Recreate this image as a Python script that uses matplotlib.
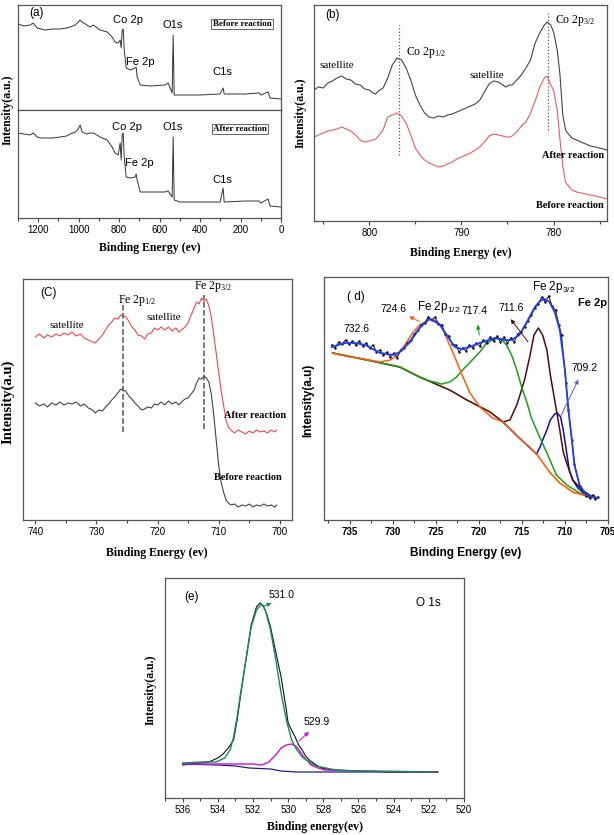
import matplotlib
matplotlib.use("Agg")
import matplotlib.pyplot as plt
from matplotlib.ticker import MultipleLocator

plt.rcParams['font.family'] = ['Liberation Sans', 'DejaVu Sans']
plt.rcParams['mathtext.fontset'] = 'custom'
plt.rcParams['mathtext.rm'] = 'Liberation Serif'
plt.rcParams['mathtext.sf'] = 'Liberation Sans'

SERIF = ['Liberation Serif', 'DejaVu Serif']
SANS = ['Liberation Sans', 'DejaVu Sans']
W, H = 614, 835

# ---- (a) survey spectra ----
a_e = [1300, 1270, 1240, 1225, 1205, 1185, 1165, 1130, 1091, 1060, 1042, 1017, 1002, 993, 983, 960,
       943, 928, 894, 859, 835, 820, 805, 795, 790, 785, 780, 775, 765, 746, 721, 716, 711, 696,
       647, 573, 558, 548, 538, 533, 528, 499, 400, 301, 286, 281, 178, 108, 99, 64, 54, 0]
a_before = [86, 84, 85, 87, 82, 81, 80, 81, 81, 82, 83, 85, 88, 90, 88, 85,
            83, 85, 80, 78, 73, 68, 67, 70, 62, 80, 81, 60, 42, 40, 42, 43, 33, 25,
            24, 25, 27, 22, 17, 75, 15, 15, 15, 16, 22, 16, 16, 17, 15, 18, 12, 11]
a_after = [85, 84, 83, 85, 81, 80, 80, 80, 81, 82, 84, 86, 89, 93, 86, 84,
           85, 85, 81, 78, 71, 65, 63, 75, 58, 83, 85, 61, 41, 40, 41, 44, 38, 26,
           26, 26, 27, 24, 21, 81, 18, 16, 16, 16, 30, 16, 17, 17, 15, 19, 12, 11]

# ---- (b) Co 2p ----
b_e = [806.0, 805.5, 805.0, 804.5, 804.0, 803.5, 803.0, 802.5, 802.0, 801.5, 801.0, 800.5, 800.0,
       799.6, 799.3, 799.0, 798.5, 798.0, 797.5, 797.0, 796.5, 796.0, 795.5, 795.0, 794.5, 794.0,
       793.5, 793.0, 792.5, 792.0, 791.5, 791.0, 790.5, 790.0, 789.5, 789.0, 788.5, 788.0, 787.5,
       787.0, 786.5, 786.0, 785.5, 785.2, 784.8, 784.5, 784.0, 783.5, 783.0, 782.5, 782.0, 781.5,
       781.0, 780.7, 780.3, 780.0, 779.6, 779.3, 779.0, 778.7, 778.3, 778.0, 777.5, 777.0, 776.5,
       776.0, 775.5, 775.0, 774.6, 774.2]
b_after = [131, 134, 133, 138, 140, 143, 145, 142, 141, 137, 136, 132, 131,
           128, 127, 130, 133, 143, 156, 163, 161, 153, 141, 126, 116, 108,
           104, 103, 105, 104, 106, 107, 109, 111, 113, 115, 117, 121, 129,
           137, 140, 139, 136, 134, 136, 136, 141, 146, 153, 161, 178, 188,
           196, 199, 196, 189, 171, 146, 106, 91, 86, 83, 81, 79, 77,
           75, 74, 73, 72, 71]
b_before = [84, 86, 88, 90, 91, 92, 94, 92, 90, 86, 81, 79, 80,
            81, 82, 85, 91, 104, 106, 108, 105, 98, 86, 73, 66, 61,
            58, 56, 54, 55, 57, 59, 62, 64, 66, 68, 71, 74, 79,
            85, 87, 86, 85, 84, 84, 85, 89, 95, 99, 108, 120, 134,
            143, 145, 136, 131, 111, 81, 55, 39, 34, 31, 29, 28, 27,
            26, 25, 24, 23, 22]

# ---- (c) Fe 2p before / after ----
c_e = [740, 739.3, 738.6, 738, 737.3, 736.6, 736, 735.3, 734.6, 734, 733.3, 732.6, 732, 731.3,
       730.6, 730.2, 729.6, 729, 728.5, 728, 727.5, 727, 726.5, 726, 725.7, 725.2, 724.7, 724.2,
       723.7, 723.2, 722.6, 722.1, 721.6, 721, 720.5, 720, 719.4, 718.8, 718.2, 717.6, 717, 716.5,
       716.1, 715.5, 715, 714.5, 714, 713.6, 713.2, 712.8, 712.4, 712, 711.6, 711.2, 710.8, 710.4,
       710, 709.6, 709.2, 708.8, 708.4, 708, 707.4, 706.8, 706.2, 705.6, 705, 704.4, 703.8, 703.2,
       702.6, 702, 701.4, 700.8, 700.5]
c_after = [183, 186, 182, 185, 183, 186, 184, 187, 185, 188, 184, 186, 182, 180,
           178, 177, 181, 185, 190, 195, 198, 202, 201, 205, 204, 203, 199, 193,
           190, 185, 184, 181, 186, 187, 192, 190, 193, 190, 193, 189, 192, 188,
           190, 193, 197, 205, 212, 218, 216, 222, 219, 221, 214, 203, 185, 167,
           148, 130, 115, 100, 93, 90, 87, 90, 88, 86, 89, 87, 90, 88,
           89, 87, 90, 88, 90]
c_before = [117, 114, 116, 113, 117, 115, 118, 115, 117, 116, 118, 114, 116, 112,
            110, 107, 110, 109, 113, 116, 120, 123, 127, 131, 130, 129, 124, 121,
            117, 114, 110, 111, 113, 112, 116, 115, 118, 115, 119, 116, 118, 115,
            118, 121, 122, 126, 130, 137, 142, 141, 144, 142, 138, 126, 105, 80,
            55, 38, 28, 20, 17, 15, 16, 13, 15, 14, 16, 13, 15, 14,
            16, 14, 15, 13, 15]

# ---- (d) Fe 2p fit ----
d_raw_e = [737.1, 736.7, 736.3, 735.9, 735.5, 735.1, 734.7, 734.3, 733.9, 733.5, 733.1, 732.7,
           732.3, 731.9, 731.5, 731.1, 730.7, 730.3, 729.9, 729.5, 729.1, 728.7, 728.3, 727.9,
           727.5, 727.1, 726.7, 726.3, 725.9, 725.5, 725.1, 724.7, 724.3, 723.9, 723.5, 723.1,
           722.7, 722.3, 721.9, 721.5, 721.1, 720.7, 720.3, 719.9, 719.5, 719.1, 718.7, 718.3,
           717.9, 717.5, 717.1, 716.7, 716.3, 715.9, 715.5, 715.1, 714.7, 714.3, 713.9, 713.5,
           713.1, 712.7, 712.3, 711.9, 711.5, 711.1, 710.7, 710.4, 709.9, 709.6, 709.2, 708.9,
           708.3, 707.5, 707.1, 706.8, 706.5, 706.2]
d_raw = [175, 172, 178, 176, 180, 176, 179, 175, 179, 174, 177, 172,
         175, 168, 170, 165, 168, 163, 167, 162, 170, 172, 177, 180,
         186, 190, 195, 197, 203, 200, 203, 196, 195, 186, 184, 176,
         175, 168, 172, 169, 175, 172, 177, 174, 180, 177, 183, 179,
         184, 178, 183, 177, 182, 178, 186, 188, 193, 199, 205, 212,
         216, 223, 218, 224, 214, 210, 195, 185, 137, 110, 80, 56,
         34, 24, 22, 25, 21, 23]
d_fit_e = [737.1, 735.6, 734.4, 733.2, 731.5, 730.0, 729.2, 728.0, 726.9, 725.9, 725.6, 724.5,
           723.6, 722.8, 722.0, 721.1, 719.9, 718.2, 717.0, 716.2, 715.3, 714.3, 713.5, 712.9,
           712.4, 711.8, 711.2, 710.6, 710.0, 709.6, 709.2, 708.9, 708.3, 707.5, 706.2]
d_fit = [173, 177, 177, 175, 167, 165, 168, 178, 192, 200, 201, 195,
         183, 173, 171, 173, 177, 182, 180, 180, 185, 200, 213, 219,
         221, 218, 208, 190, 150, 110, 80, 55, 35, 25, 22]
d_bg_e = [737.0, 733.0, 729.2, 726.9, 723.4, 721.4, 718.7, 717.2, 715.3, 713.3, 711.8, 710.6,
          709.1, 707.5, 706.2]
d_bg = [167, 160, 153, 143, 130, 120, 108, 98, 82, 66, 48, 37, 28, 24, 22]
d_or_e = [737.0, 735.0, 732.7, 731.5, 730.3, 729.5, 728.6, 727.7, 726.9, 725.9, 725.2, 724.5,
          724.0, 723.4, 722.8, 722.2, 721.1, 719.9, 718.4, 717.2, 715.3, 713.3, 711.8, 710.6,
          709.1, 707.5, 706.2]
d_or = [167, 163, 160, 158, 160, 165, 175, 187, 195, 200, 200, 195,
        187, 175, 163, 150, 128, 113, 102, 98, 82, 66, 48, 37, 28, 24, 22]
d_gr_e = [737.0, 733.0, 729.2, 726.9, 725.7, 724.3, 723.4, 722.6, 721.9, 721.1, 719.9, 719.1,
          717.9, 717.4, 716.8, 716.2, 715.6, 715.0, 714.4, 713.9, 713.2, 712.1, 711.0, 709.8,
          708.3, 706.3]
d_gr = [167, 160, 153, 143, 139, 136, 138, 143, 150, 157, 168, 177,
        182, 181, 175, 165, 150, 132, 117, 102, 88, 67, 45, 35, 27, 22]
d_br_e = [737.0, 733.0, 729.2, 726.9, 723.4, 721.4, 718.7, 717.2, 716.4, 715.6, 715.3, 714.7,
          714.1, 713.6, 713.1, 712.6, 712.1, 711.7, 711.2, 710.6, 710.2, 709.8, 709.1, 708.0,
          706.8, 706.2]
d_br = [167, 160, 153, 143, 130, 120, 108, 98, 100, 115, 123, 140,
        163, 185, 192, 185, 170, 145, 120, 90, 68, 57, 40, 30, 23, 22]
d_nv_e = [717.2, 715.3, 713.3, 712.9, 712.5, 712.1, 711.7, 711.2, 710.9, 710.5, 710.2, 709.8,
          709.5, 709.1, 708.5, 707.7, 706.9, 706.2]
d_nv = [98, 82, 66, 73, 82, 90, 100, 106, 107, 103, 90, 67, 50, 40, 32, 26, 23, 22]

# ---- (e) O 1s ----
e_raw_e = [536, 535, 534.5, 534, 533.7, 533.4, 533.1, 532.9, 532.7, 532.4, 532.1, 531.8, 531.6,
           531.4, 531.2, 531.0, 530.7, 530.4, 530.1, 530.0, 529.8, 529.6, 529.4, 529.2, 529.0,
           528.8, 528.4, 528.1, 527.5, 526, 524, 521.5]
e_raw = [33, 35, 36, 40, 44, 50, 58, 78, 103, 138, 173, 191, 195,
         192, 183, 171, 146, 121, 88, 75, 68, 61, 53, 48, 42,
         38, 33, 30, 28, 27, 26, 26]
e_gr_e = [536, 535, 534.1, 533.6, 533.3, 533.1, 532.9, 532.7, 532.4, 532.1, 531.8, 531.5, 531.3,
          531.0, 530.7, 530.4, 530.1, 529.8, 529.5, 529.2, 528.8, 528.4, 527.3, 526, 521.5]
e_gr = [35, 36, 36, 40, 48, 61, 81, 105, 138, 171, 188, 194, 188,
        168, 138, 105, 78, 58, 48, 41, 36, 32, 28, 27, 26]
e_mg_e = [536, 534, 532, 531.5, 531.1, 530.7, 530.4, 530.1, 529.8, 529.5, 529.1, 528.7, 528.3,
          527.9, 526, 521.5]
e_mg = [34, 34, 34, 33, 36, 43, 50, 53, 54, 51, 41, 33, 30, 28, 27, 26]
e_bg_e = [536, 534, 533, 532.2, 531, 530.4, 529.5, 528.4, 521.5]
e_bg = [34, 33, 32, 30, 29, 27, 26, 26, 26]


def add_axes(fig, left, top, right, bottom):
    # positions given in pixels of the 614x835 picture
    return fig.add_axes([left / W, 1 - bottom / H, (right - left) / W, (bottom - top) / H])


def style(ax, xlim, ylim, major, minor, bold=False, labels=True):
    ax.set_xlim(*xlim)
    ax.set_ylim(*ylim)
    ax.set_yticks([])
    ax.xaxis.set_major_locator(MultipleLocator(major))
    ax.xaxis.set_minor_locator(MultipleLocator(minor))
    ax.tick_params(axis='x', which='both', direction='out', color='#444', width=0.8,
                   labelsize=7, pad=2, labelbottom=labels)
    ax.tick_params(axis='x', which='major', length=3)
    ax.tick_params(axis='x', which='minor', length=2)
    for lab in ax.get_xticklabels():
        lab.set_fontweight('bold' if bold else 'normal')
    for s in ax.spines.values():
        s.set_color('#555')
        s.set_linewidth(0.9)


def ftext(fig, x, y, s, **kw):
    fig.text(x / W, 1 - y / H, s, ha='center', va='center', **kw)


def arrow(ax, tail, head, color):
    ax.annotate('', xy=head, xytext=tail,
                arrowprops=dict(arrowstyle='-|>', color=color, lw=0.7, mutation_scale=6))


fig = plt.figure(figsize=(W / 100, H / 100), dpi=100)

# (a)
ax_a1 = add_axes(fig, 18, 5, 281, 110)
ax_a2 = add_axes(fig, 18, 110, 281, 218)
ax_a1.plot(a_e, a_before, color='#333', lw=0.7)
ax_a2.plot(a_e, a_after, color='#333', lw=0.7)
style(ax_a1, (1300, 0), (0, 105), 200, 100, labels=False)
ax_a1.tick_params(axis='x', which='both', length=0)
style(ax_a2, (1300, 0), (0, 108), 200, 100)
ax_a1.text(1210, 97, '(a)', fontsize=8.5, ha='center', va='center')
ax_a1.text(755, 90, 'Co 2p', fontsize=8, ha='center', va='center')
ax_a1.text(533, 85, 'O1s', fontsize=8, ha='center', va='center')
ax_a1.text(696, 48, 'Fe 2p', fontsize=8, ha='center', va='center')
ax_a1.text(291, 38, 'C1s', fontsize=8, ha='center', va='center')
ax_a1.text(193, 86, 'Before reaction', fontsize=6.5, ha='center', va='center', family=SERIF,
           weight='bold', bbox=dict(boxstyle='square,pad=0.15', fc='white', ec='#666', lw=0.7))
ax_a2.text(760, 91, 'Co 2p', fontsize=8, ha='center', va='center')
ax_a2.text(533, 91, 'O1s', fontsize=8, ha='center', va='center')
ax_a2.text(701, 55, 'Fe 2p', fontsize=8, ha='center', va='center')
ax_a2.text(291, 38, 'C1s', fontsize=8, ha='center', va='center')
ax_a2.text(202, 89, 'After reaction', fontsize=6.5, ha='center', va='center', family=SERIF,
           weight='bold', bbox=dict(boxstyle='square,pad=0.15', fc='white', ec='#666', lw=0.7))
ftext(fig, 150, 248, 'Binding Energy (ev)', fontsize=8.5, family=SERIF, weight='bold')
ftext(fig, 8, 110, 'Intensity(a.u.)', fontsize=8.5, family=SERIF, weight='bold', rotation=90)

# (b)
ax_b = add_axes(fig, 314, 5, 607, 221)
ax_b.plot(b_e, b_after, color='#444', lw=0.8)
ax_b.plot(b_e, b_before, color='#f05a5a', lw=0.8)
ax_b.plot([796.8, 796.8], [66, 196], ls=':', color='#555', lw=0.9)
ax_b.plot([780.65, 780.65], [91, 208], ls=':', color='#555', lw=0.9)
style(ax_b, (806, 774.2), (0, 216), 10, 5)
ax_b.text(804.0, 206, '(b)', fontsize=8.5, ha='center', va='center')
ax_b.text(803.5, 155, 'satellite', fontsize=8, family=SERIF, ha='center', va='center')
ax_b.text(787.2, 146, 'satellite', fontsize=8, family=SERIF, ha='center', va='center')
ax_b.text(796.0, 168, r'Co 2p$\mathrm{_{1/2}}$', fontsize=8.5, family=SERIF, ha='left', va='center')
ax_b.text(779.8, 201, r'Co 2p$\mathrm{_{3/2}}$', fontsize=8.5, family=SERIF, ha='left', va='center')
ax_b.text(774.5, 65, 'After reaction', fontsize=7.5, family=SERIF, weight='bold', ha='right', va='center')
ax_b.text(774.5, 16, 'Before reaction', fontsize=7.5, family=SERIF, weight='bold', ha='right', va='center')
ftext(fig, 461, 253, 'Binding Energy (ev)', fontsize=8.5, family=SERIF, weight='bold')
ftext(fig, 301, 113, 'Intensity(a.u.)', fontsize=8.5, family=SERIF, weight='bold', rotation=90)

# (c)
ax_c = add_axes(fig, 23, 279, 292, 520)
ax_c.plot(c_e, c_after, color='#f04848', lw=0.8)
ax_c.plot(c_e, c_before, color='#444', lw=0.8)
ax_c.plot([725.7, 725.7], [88, 218], ls='--', color='#555', lw=1.1)
ax_c.plot([712.4, 712.4], [91, 225], ls='--', color='#555', lw=1.1)
style(ax_c, (742, 698), (0, 241), 10, 5)
ax_c.text(737.9, 227, '(C)', fontsize=8.5, ha='center', va='center')
ax_c.text(734.8, 195, 'satellite', fontsize=8, family=SERIF, ha='center', va='center')
ax_c.text(718.9, 203, 'satellite', fontsize=8, family=SERIF, ha='center', va='center')
ax_c.text(726.5, 220, r'Fe 2p$\mathrm{_{1/2}}$', fontsize=8.5, family=SERIF, ha='left', va='center')
ax_c.text(714.0, 233, r'Fe 2p$\mathrm{_{3/2}}$', fontsize=8.5, family=SERIF, ha='left', va='center')
ax_c.text(698.9, 104, 'After reaction', fontsize=7.5, family=SERIF, weight='bold', ha='right', va='center')
ax_c.text(699.7, 43, 'Before reaction', fontsize=7.5, family=SERIF, weight='bold', ha='right', va='center')
ftext(fig, 157, 553, 'Binding Energy (ev)', fontsize=8.5, family=SERIF, weight='bold')
ftext(fig, 8, 402, 'Intensity(a.u)', fontsize=10.5, family=SERIF, weight='bold', rotation=90)

# (d)
ax_d = add_axes(fig, 324, 277, 608, 520)
ax_d.plot(d_bg_e, d_bg, color='#e8e060', lw=1.6, alpha=0.6)
ax_d.plot(d_nv_e, d_nv, color='#1010a0', lw=1.1)
ax_d.plot(d_br_e, d_br, color='#4a0c14', lw=1.1)
ax_d.plot(d_gr_e, d_gr, color='#18a018', lw=1.1)
ax_d.plot(d_or_e, d_or, color='#ff5a1a', lw=1.1)
ax_d.plot(d_raw_e, d_raw, color='#111', lw=0.7, marker='.', ms=1.5)
ax_d.plot(d_fit_e, d_fit, color='#1a3cff', lw=1.3)
style(ax_d, (738, 705), (0, 243), 5, 2.5, bold=True)
ax_d.text(735.3, 223, '( d)', fontsize=8.5, ha='left', va='center')
ax_d.text(734.2, 191, '732.6', fontsize=7.5, ha='center', va='center')
ax_d.text(729.9, 211, '724.6', fontsize=7.5, ha='center', va='center')
ax_d.text(727.2, 213, r'Fe 2p$\mathsf{_{1/2}}$', fontsize=8.5, ha='left', va='center')
ax_d.text(720.5, 209, '717.4', fontsize=7.5, ha='center', va='center')
ax_d.text(716.2, 212, '711.6', fontsize=7.5, ha='center', va='center')
ax_d.text(713.8, 233, r'Fe 2p$\mathsf{_{3/2}}$', fontsize=8.5, ha='left', va='center')
ax_d.text(706.8, 217, 'Fe 2p', fontsize=8, weight='bold', ha='center', va='center')
ax_d.text(707.7, 152, '709.2', fontsize=7.5, ha='center', va='center')
arrow(ax_d, (726.6, 197), (728.4, 205), '#ff5a1a')
arrow(ax_d, (719.9, 182), (720.2, 198), '#18a018')
arrow(ax_d, (714.1, 176), (716.5, 203), '#4a0c14')
arrow(ax_d, (710.6, 102), (708.3, 143), '#5060d0')
ftext(fig, 466, 553, 'Binding Energy (ev)', fontsize=8.5, weight='bold')
ftext(fig, 308, 400, 'Intensity(a.u)', fontsize=8.5, weight='bold', rotation=90)

# (e)
ax_e = add_axes(fig, 165, 578, 464, 798)
ax_e.plot(e_bg_e, e_bg, color='#20208a', lw=0.9)
ax_e.plot(e_raw_e, e_raw, color='#111', lw=0.8)
ax_e.plot(e_mg_e, e_mg, color='#d010d8', lw=1.0)
ax_e.plot(e_gr_e, e_gr, color='#168a5a', lw=1.0)
style(ax_e, (537, 520), (0, 220), 2, 1)
ax_e.text(535.5, 201, '(e)', fontsize=8.5, ha='center', va='center')
ax_e.text(530.4, 203, '531.0', fontsize=7.5, ha='center', va='center')
ax_e.text(522.0, 195, 'O 1s', fontsize=8.5, ha='center', va='center')
ax_e.text(528.4, 76, '529.9', fontsize=7.5, ha='center', va='center')
arrow(ax_e, (531.5, 191), (530.8, 196), '#168a5a')
arrow(ax_e, (529.5, 55), (528.7, 68), '#d010d8')
ftext(fig, 315, 827, 'Binding energy(ev)', fontsize=8.5, family=SERIF, weight='bold')
ftext(fig, 151, 690, 'Intensity(a.u.)', fontsize=8.5, family=SERIF, weight='bold', rotation=90)

fig.savefig('out.png', dpi=100)
plt.close(fig)
